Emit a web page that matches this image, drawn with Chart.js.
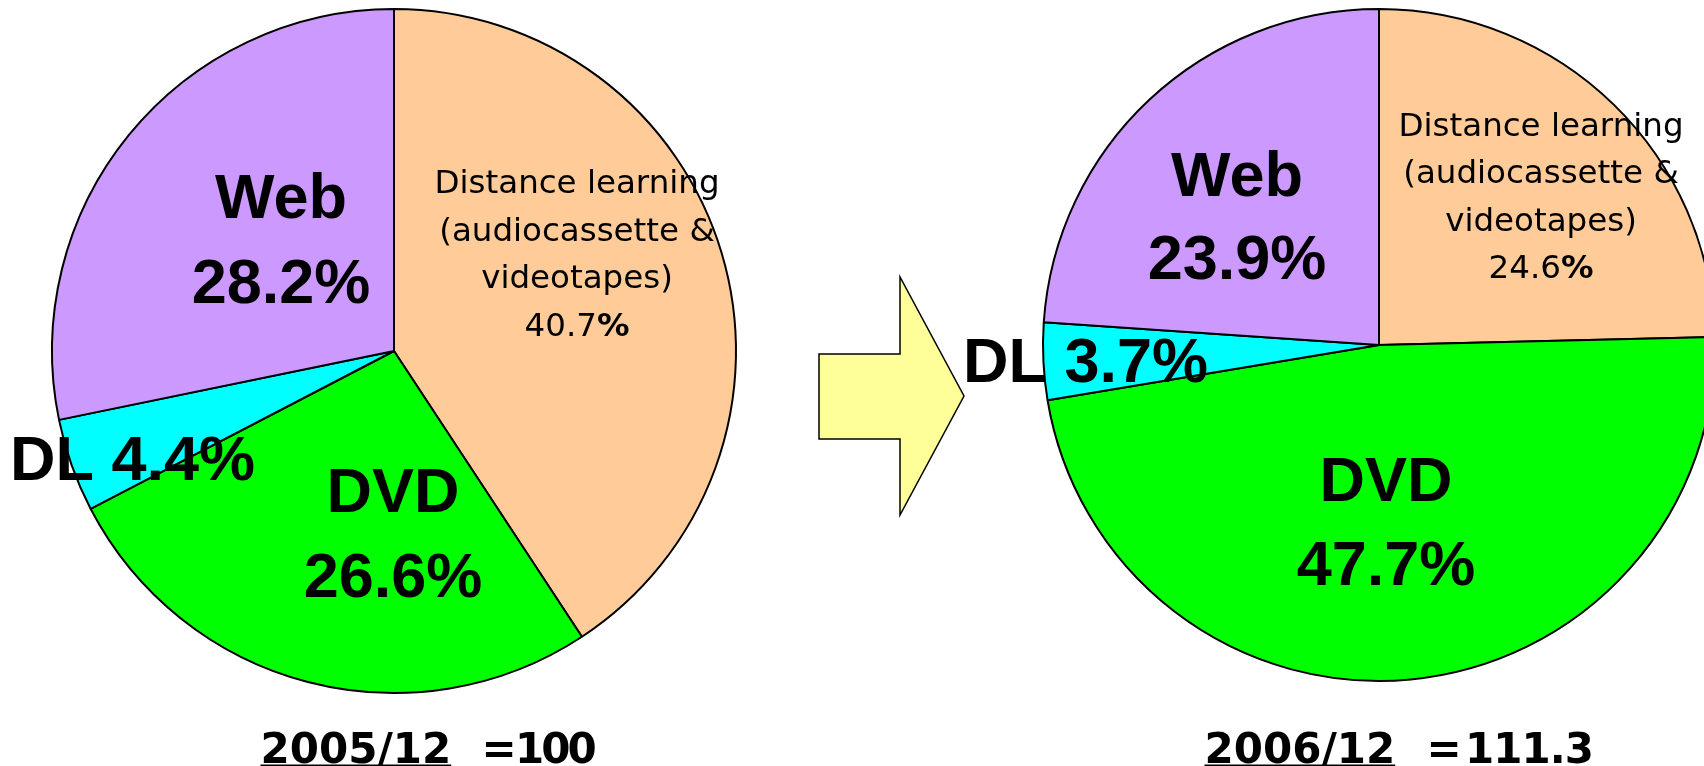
<!DOCTYPE html>
<html>
<head>
<meta charset="utf-8">
<script src="https://cdn.jsdelivr.net/npm/chart.js@4/dist/chart.umd.min.js"></script>
<style>
  html, body { margin: 0; padding: 0; background: #ffffff; overflow: hidden; }
  #wrap { position: relative; width: 1704px; height: 766px; }
  #wrap canvas { position: absolute; left: 0; top: 0; }
</style>
</head>
<body>
<div id="wrap">
  <canvas id="pie2005" width="1704" height="766"></canvas>
  <canvas id="pie2006" width="1704" height="766"></canvas>
</div>
<script>
// Segments, in clockwise order starting at 12 o'clock
const categories = ['Distance learning', 'DVD', 'DL', 'Web'];
const categoryLines = [
  ['Distance learning', '(audiocassette &', 'videotapes)'],
  ['DVD'],
  ['DL'],
  ['Web']
];
// Share of each segment (%)
const share2005 = [40.7, 26.6, 4.4, 28.2];
const share2006 = [24.6, 47.7, 3.7, 23.9];
// Period captions and index values (2005/12 = 100)
const periods = ['2005/12', '2006/12'];
const indexValues = ['100', '111.3'];

// ---- styling ----
const sliceColors = ['#FFCC99', '#00FF00', '#00FFFF', '#CC99FF'];
const BIG_FONT = 'bold 63px "Liberation Sans", Arial, sans-serif';
const SMALL_FONT = '32.5px "DejaVu Sans", sans-serif';
const SMALL_BOLD = 'bold 32.5px "DejaVu Sans", sans-serif';
const FOOT_FONT = 'bold 42px "DejaVu Sans", sans-serif';

// label placement per segment, offsets from the pie centre
const layout2005 = [
  { dx: 183, dy: -158, gap: 47.5, align: 'center', style: 'small' },
  { dx: -1, dy: 161, gap: 85, align: 'center', style: 'big' },
  { dx: -384, dy: 129, gap: 0, align: 'left', style: 'big' },
  { dx: -113, dy: -133, gap: 85, align: 'center', style: 'big' }
];
const layout2006 = [
  { dx: 162, dy: -209, gap: 47.4, align: 'center', style: 'small' },
  { dx: 7, dy: 156, gap: 84.3, align: 'center', style: 'big' },
  { dx: -416, dy: 37, gap: 0, align: 'left', style: 'big' },
  { dx: -142, dy: -149, gap: 83.3, align: 'center', style: 'big' }
];

function linesFor(i, v) {
  if (categories[i] === 'DL') return ['DL ' + v.toFixed(1) + '%'];
  return categoryLines[i].concat([v.toFixed(1) + '%']);
}

// Draws the in-pie labels
const sliceLabels = {
  id: 'sliceLabels',
  afterDatasetsDraw(chart, args, opts) {
    const ctx = chart.ctx;
    const arc = chart.getDatasetMeta(0).data[0];
    const cx = arc.x, cy = arc.y;
    const values = chart.data.datasets[0].data;
    ctx.save();
    ctx.fillStyle = '#000000';
    ctx.textBaseline = 'alphabetic';
    values.forEach((v, i) => {
      const L = opts.layout[i];
      const lines = linesFor(i, v);
      lines.forEach((line, k) => {
        const x = cx + L.dx;
        const y = cy + L.dy + k * L.gap;
        if (L.style === 'big') {
          ctx.font = BIG_FONT;
          ctx.textAlign = L.align;
          ctx.fillText(line, x, y);
        } else if (line.endsWith('%')) {
          const num = line.slice(0, -1);
          ctx.font = SMALL_FONT;
          const w1 = ctx.measureText(num).width;
          ctx.font = SMALL_BOLD;
          const w2 = ctx.measureText('%').width;
          const x0 = x - (w1 + w2) / 2;
          ctx.textAlign = 'left';
          ctx.font = SMALL_FONT;
          ctx.fillText(num, x0, y);
          ctx.font = SMALL_BOLD;
          ctx.fillText('%', x0 + w1, y);
        } else {
          ctx.font = SMALL_FONT;
          ctx.textAlign = L.align;
          ctx.fillText(line, x, y);
        }
      });
    });
    ctx.restore();
  }
};

// Period caption under each pie: underlined date, then the index value
const caption = {
  id: 'caption',
  afterDraw(chart, args, opts) {
    const ctx = chart.ctx;
    ctx.save();
    ctx.fillStyle = '#000000';
    ctx.strokeStyle = '#000000';
    ctx.font = FOOT_FONT;
    ctx.textBaseline = 'alphabetic';
    ctx.textAlign = 'left';
    ctx.fillText(opts.period, opts.x, opts.baseline);
    const w = ctx.measureText(opts.period).width;
    ctx.lineWidth = 2;
    ctx.beginPath();
    ctx.moveTo(opts.x, opts.baseline + 2.5);
    ctx.lineTo(opts.x + w, opts.baseline + 2.5);
    ctx.stroke();
    ctx.textAlign = 'center';
    ctx.fillText('=', opts.eqX, opts.baseline);
    ctx.textAlign = 'left';
    ctx.letterSpacing = opts.tracking;
    ctx.fillText(opts.value, opts.valueLeft, opts.baseline);
    ctx.restore();
  }
};

// Block arrow between the two pies
const arrow = {
  id: 'arrow',
  afterDraw(chart, args, opts) {
    if (!opts.show) return;
    const ctx = chart.ctx;
    ctx.save();
    ctx.beginPath();
    ctx.moveTo(819, 354);
    ctx.lineTo(900, 354);
    ctx.lineTo(900, 277);
    ctx.lineTo(964, 396);
    ctx.lineTo(900, 515);
    ctx.lineTo(900, 439);
    ctx.lineTo(819, 439);
    ctx.closePath();
    ctx.fillStyle = '#FFFF99';
    ctx.fill();
    ctx.lineWidth = 1.5;
    ctx.strokeStyle = '#000000';
    ctx.lineJoin = 'miter';
    ctx.stroke();
    ctx.restore();
  }
};

function makePie(id, values, radius, padding, layout, cap, showArrow) {
  return new Chart(document.getElementById(id), {
    type: 'pie',
    data: {
      labels: categories,
      datasets: [{
        data: values,
        backgroundColor: sliceColors,
        borderColor: '#000000',
        borderWidth: 2,
        clip: false
      }]
    },
    options: {
      responsive: false,
      animation: false,
      radius: radius,
      layout: { padding: padding },
      plugins: {
        legend: { display: false },
        tooltip: { enabled: false },
        sliceLabels: { layout: layout },
        caption: cap,
        arrow: { show: showArrow }
      }
    },
    plugins: [sliceLabels, caption, arrow]
  });
}

makePie('pie2005', share2005, 342,
  { left: 0, right: 916, top: 0, bottom: 64 },
  layout2005,
  { period: periods[0], value: indexValues[0], x: 260.5, baseline: 763, eqX: 499, valueLeft: 515, tracking: '-3px' },
  true);

makePie('pie2006', share2006, 336,
  { left: 1054, right: 0, top: 0, bottom: 76 },
  layout2006,
  { period: periods[1], value: indexValues[1], x: 1204.5, baseline: 763, eqX: 1444, valueLeft: 1465, tracking: '-1px' },
  false);
</script>
</body>
</html>
